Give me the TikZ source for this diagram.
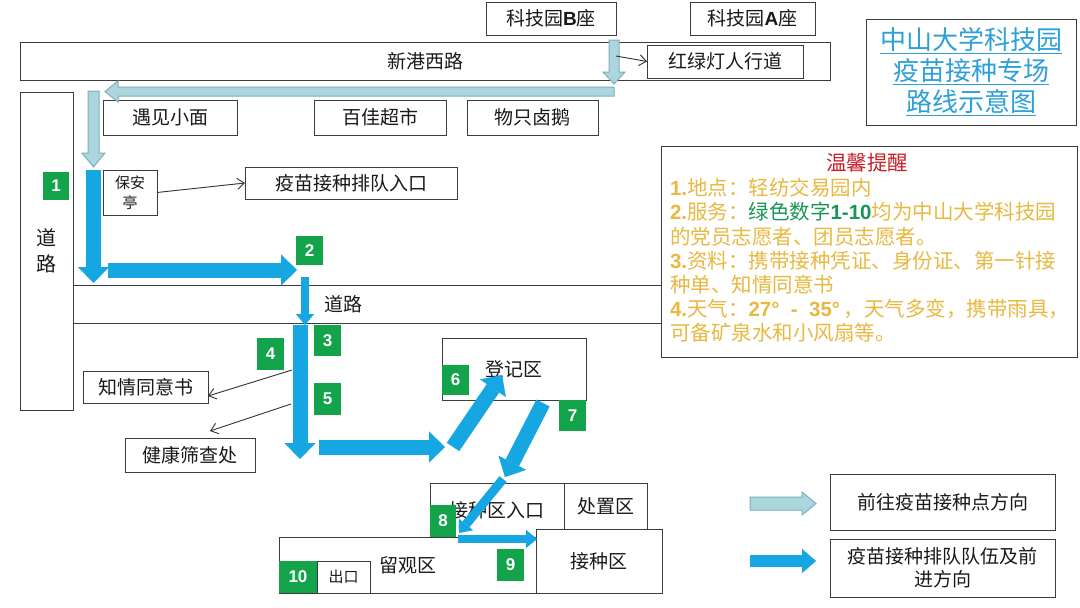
\documentclass[tikz,border=0pt]{standalone}
\usepackage{fontspec}
\setmainfont{Noto Sans CJK SC}
\newfontfamily\latb{Liberation Sans}
\usetikzlibrary{arrows.meta}
\definecolor{ink}{RGB}{25,25,25}
\definecolor{boxgray}{RGB}{60,60,60}
\definecolor{ptr}{RGB}{50,50,50}
\definecolor{flowblue}{RGB}{22,167,226}
\definecolor{lightfill}{RGB}{172,214,221}
\definecolor{lightedge}{RGB}{125,175,186}
\definecolor{badgegreen}{RGB}{19,163,74}
\definecolor{titleblue}{RGB}{45,160,215}
\definecolor{gold}{RGB}{232,184,64}
\definecolor{rred}{RGB}{200,30,40}
\definecolor{rgreen}{RGB}{25,150,85}
\newcommand{\fsz}[2]{\fontsize{#1pt}{#2pt}\selectfont}
\newcommand{\bnum}{\latb\bfseries}
\tikzset{
 every node/.style={inner sep=0pt, outer sep=0pt, text=ink},
 box/.style={draw=boxgray, line width=1pt, fill=white, font=\fsz{19}{23}},
 lbl/.style={font=\fsz{19}{23}},
 badge/.style={fill=badgegreen, text=white, font=\fsz{17}{20}\bnum},
 flow/.style={draw=flowblue, line width=15pt, -{Triangle[length=16pt,width=31pt,line width=0.01pt]}},
 flowsm/.style={draw=flowblue, line width=7.5pt, -{Triangle[length=11pt,width=18pt,line width=0.01pt]}},
 pointer/.style={draw=ptr, line width=0.9pt, -{Straight Barb[length=7pt,width=11pt]}},
 lite/.style={fill=lightfill, draw=lightedge, line width=1pt},
 rem/.style={text=gold, font=\fsz{20.5}{24}, anchor=west}
}
\begin{document}
\begin{tikzpicture}[x=1pt,y=-1pt]
\useasboundingbox (0,0) rectangle (1080,608);
\fill[white] (0,0) rectangle (1080,608);

% roads
\node[box, minimum width=810pt, minimum height=38pt] (xg) at (425,61) {新港西路};
\node[box, minimum width=53pt, minimum height=318pt, align=center, font=\fsz{20}{26}] (roadl) at (46.5,251) {道\\路};
\node[box, minimum width=967pt, minimum height=38pt] (road2) at (556.5,304) {};
\node[lbl] (road2t) at (343,304) {道路};

% top boxes
\node[box, minimum width=130pt, minimum height=33pt] (kb) at (551,18.5) {科技园{\bnum B}座};
\node[box, minimum width=125pt, minimum height=33pt] (ka) at (752.5,18.5) {科技园{\bnum A}座};
\node[box, minimum width=156pt, minimum height=33pt] (hld) at (725,61.5) {红绿灯人行道};
\node[box, minimum width=134pt, minimum height=35pt] (yj) at (170,117.5) {遇见小面};
\node[box, minimum width=132pt, minimum height=35pt] (bj) at (380,117.5) {百佳超市};
\node[box, minimum width=131pt, minimum height=35pt] (wz) at (532.5,117.5) {物只卤鹅};

% title
\node[box, minimum width=210pt, minimum height=106pt, align=center, text=titleblue, font=\fsz{26}{31}] (title) at (971,72)
 {\underline{中山大学科技园}\\\underline{疫苗接种专场}\\\underline{路线示意图}};

% reminder
\node[box, minimum width=416pt, minimum height=211pt] (remb) at (869,251.5) {};
\node[rem, anchor=center, text=rred] (rt) at (867,163) {温馨提醒};
\node[rem] (r1) at (670,188) {{\bnum 1.}地点：轻纺交易园内};
\node[rem] (r2) at (670,212) {{\bnum 2.}服务：\textcolor{rgreen}{绿色数字{\bnum 1-10}}均为中山大学科技园};
\node[rem] (r3) at (670,237) {的党员志愿者、团员志愿者。};
\node[rem] (r4) at (670,261) {{\bnum 3.}资料：携带接种凭证、身份证、第一针接};
\node[rem] (r5) at (670,285) {种单、知情同意书};
\node[rem] (r6) at (670,309) {{\bnum 4.}天气：{\bnum 27°\; -\; 35°}\,，天气多变，携带雨具，};
\node[rem] (r7) at (670,333) {可备矿泉水和小风扇等。};

% middle boxes
\node[box, minimum width=54pt, minimum height=45pt, align=center, font=\fsz{15}{20}] (ba) at (130,192.5) {保安\\亭};
\node[box, minimum width=212pt, minimum height=32pt] (qe) at (351,183) {疫苗接种排队入口};
\node[box, minimum width=125pt, minimum height=32pt] (zq) at (145.5,387) {知情同意书};
\node[box, minimum width=130pt, minimum height=34pt] (jk) at (190,455) {健康筛查处};
\node[box, minimum width=144pt, minimum height=62pt] (dj) at (514,369) {登记区};

% bottom boxes
\node[box, minimum width=134pt, minimum height=54pt] (jr) at (497,510) {接种区入口};
\node[box, minimum width=83pt, minimum height=46pt] (cz) at (605.5,506) {处置区};
\node[box, minimum width=257pt, minimum height=56pt] (lg) at (407.5,565) {留观区};
\node[box, minimum width=126pt, minimum height=64pt] (jz) at (599,561) {接种区};
\node[box, minimum width=53pt, minimum height=32pt, font=\fsz{15}{18}] (ck) at (343.5,577) {出口};

% legend
\node[box, minimum width=225pt, minimum height=56pt] (lgd1) at (942.5,502) {前往疫苗接种点方向};
\node[box, minimum width=225pt, minimum height=58pt, align=center] (lgd2) at (942.5,568) {疫苗接种排队队伍及前\\进方向};

% light blue arrows
\fill[lite] (609,40) -- (619,40) -- (619,72) -- (625,72) -- (614,84) -- (603,72) -- (609,72) -- cycle;
\fill[lite] (614,87) -- (614,96) -- (118,96) -- (118,102) -- (105,91.5) -- (118,81) -- (118,87) -- cycle;
\fill[lite] (88,91) -- (99,91) -- (99,153) -- (105,153) -- (93.5,167) -- (82,153) -- (88,153) -- cycle;
\fill[lite] (750,497) -- (802,497) -- (802,492) -- (816,503.5) -- (802,515) -- (802,510) -- (750,510) -- cycle;

% dark blue flow arrows
\coordinate (a1s) at (93.5,170); \coordinate (a1e) at (93.5,283);
\coordinate (a2s) at (108,270); \coordinate (a2e) at (297,270);
\coordinate (ass) at (305,277); \coordinate (ase) at (305,325);
\coordinate (a3s) at (300,325); \coordinate (a3e) at (300,459);
\coordinate (ahs) at (319,447); \coordinate (ahe) at (445,447);
\coordinate (a6s) at (453,447); \coordinate (a6e) at (502,375);
\coordinate (a7s) at (543,403); \coordinate (a7e) at (505,477);
\coordinate (a8s) at (503,479); \coordinate (a8e) at (459,533);
\coordinate (a9s) at (458,539); \coordinate (a9e) at (537,539);
\coordinate (lds) at (750,561); \coordinate (lde) at (816,561);
\draw[flow] (a1s) -- (a1e);
\draw[flow] (a2s) -- (a2e);
\draw[flowsm] (ass) -- (ase);
\draw[flow] (a3s) -- (a3e);
\draw[flow] (ahs) -- (ahe);
\draw[flow] (a6s) -- (a6e);
\draw[flow] (a7s) -- (a7e);
\draw[flowsm, line width=9pt] (a8s) -- (a8e);
\draw[flowsm] (a9s) -- (a9e);
\draw[flow, line width=12pt, -{Triangle[length=14pt,width=24pt,line width=0.01pt]}] (lds) -- (lde);

% pointers
\coordinate (p0) at (616,56);
\coordinate (p3) at (292,370);
\coordinate (p4) at (291,404);
\draw[pointer] (p0) -- (hld.west);
\draw[pointer] (ba.east) -- (qe.west);
\draw[pointer] (p3) -- ([yshift=-9pt]zq.east);
\draw[pointer] (p4) -- ([xshift=20pt,yshift=7pt]jk.north);

% badges
\node[badge, minimum width=26pt, minimum height=28pt] (b1) at (56,186) {1};
\node[badge, minimum width=27pt, minimum height=29pt] (b2) at (309.5,250.5) {2};
\node[badge, minimum width=27pt, minimum height=31pt] (b3) at (327.5,340.5) {3};
\node[badge, minimum width=27pt, minimum height=32pt] (b4) at (270.5,354) {4};
\node[badge, minimum width=27pt, minimum height=32pt] (b5) at (327.5,399) {5};
\node[badge, minimum width=27pt, minimum height=30pt] (b6) at (455.5,380) {6};
\node[badge, minimum width=27pt, minimum height=31pt] (b7) at (572.5,415.5) {7};
\node[badge, minimum width=26pt, minimum height=32pt] (b8) at (443,521) {8};
\node[badge, minimum width=27pt, minimum height=32pt] (b9) at (510.5,565) {9};
\node[badge, minimum width=38pt, minimum height=32pt] (b10) at (298,577) {10};
\end{tikzpicture}
\end{document}
